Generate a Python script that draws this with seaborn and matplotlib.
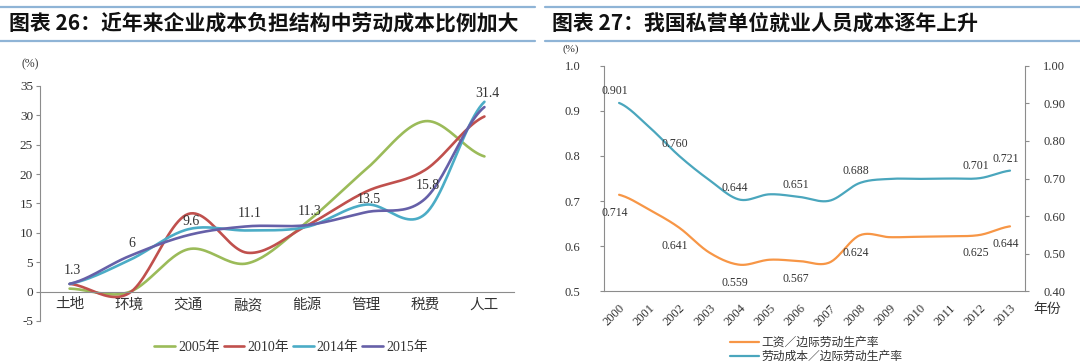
import matplotlib
matplotlib.use("Agg")
import matplotlib.pyplot as plt
from matplotlib.lines import Line2D
import numpy as np
import pandas as pd
import seaborn as sns

# left chart: share of cost items (%)
categories = ['土地', '环境', '交通', '融资', '能源', '管理', '税费', '人工']
share_2005 = [0.5, -0.1, 7.2, 4.8, 11.8, 20.8, 29.0, 23.0]
share_2010 = [1.3, -0.3, 13.2, 6.6, 11.2, 17.0, 20.7, 29.8]
share_2014 = [1.3, 5.3, 10.6, 10.4, 11.0, 14.8, 13.2, 32.3]
share_2015 = [1.3, 6.0, 9.6, 11.1, 11.3, 13.5, 15.8, 31.4]
series_names = ['2005年', '2010年', '2014年', '2015年']

# right chart: private sector ratios
years = ['2000', '2001', '2002', '2003', '2004', '2005', '2006',
         '2007', '2008', '2009', '2010', '2011', '2012', '2013']
wage_ratio = [0.714, 0.681, 0.641, 0.586, 0.559, 0.570, 0.567,
              0.564, 0.624, 0.620, 0.621, 0.622, 0.625, 0.644]
labor_ratio = [0.901, 0.837, 0.760, 0.696, 0.644, 0.658, 0.651,
               0.641, 0.688, 0.699, 0.699, 0.700, 0.701, 0.721]
labelled_years = [0, 2, 4, 6, 8, 12, 13]
wage_name = '工资／边际劳动生产率'
labor_name = '劳动成本／边际劳动生产率'

colors_left = ['#9bbb59', '#c0504d', '#4bacc6', '#6660a8']
c_wage = '#f79646'
c_labor = '#4aa6bd'
txt = '#333333'
spine_c = '#8c8c8c'


def smooth(vals, steps=24):
    # excel-style smoothed line, used only to draw the curve between points
    v = np.asarray(vals, float)
    p = np.r_[v[0], v, v[-1]]
    xs, ys = [], []
    t = np.linspace(0, 1, steps, endpoint=False)
    for i in range(len(v) - 1):
        p0, p1, p2, p3 = p[i:i + 4]
        m1 = (p2 - p0) / 2
        m2 = (p3 - p1) / 2
        h00 = 2 * t**3 - 3 * t**2 + 1
        h10 = t**3 - 2 * t**2 + t
        h01 = -2 * t**3 + 3 * t**2
        h11 = t**3 - t**2
        ys.append(h00 * p1 + h10 * m1 + h01 * p2 + h11 * m2)
        xs.append(i + t)
    xs.append([len(v) - 1])
    ys.append([v[-1]])
    return np.concatenate(xs), np.concatenate(ys)


sns.set_theme(style='white')
plt.rcParams['font.family'] = ['Liberation Serif', 'Noto Sans CJK SC']
plt.rcParams['axes.unicode_minus'] = False

fig = plt.figure(figsize=(10.8, 3.61), dpi=100)
ax1 = fig.add_axes([0.037, 0.111, 0.439, 0.651])
ax2 = fig.add_axes([0.5593, 0.193, 0.3898, 0.625])
ax3 = ax2.twinx()

# ---- left chart ----
frames = []
for name, vals in zip(series_names, [share_2005, share_2010, share_2014, share_2015]):
    sx, sy = smooth(vals)
    frames.append(pd.DataFrame({'x': sx, 'y': sy, 'series': name}))
df_left = pd.concat(frames)
sns.lineplot(data=df_left, x='x', y='y', hue='series', palette=colors_left,
             hue_order=series_names, sort=False, estimator=None, lw=1.9,
             legend=False, ax=ax1)

for i, v in enumerate(share_2015):
    ax1.annotate(f'{v:g}', (i, v), xytext=(2, 9.5), textcoords='offset points',
                 ha='center', va='center', fontsize=10, color=txt)

ax1.set_xlim(-0.5, 7.5)
ax1.set_ylim(-5, 35)
ax1.set_yticks(range(-5, 36, 5))
ax1.set_xticks(range(len(categories)))
ax1.set_xticklabels(categories)
ax1.set_xticks(np.arange(-0.5, 8, 1), minor=True)
ax1.spines['bottom'].set_position(('data', 0))
for s in ['top', 'right']:
    ax1.spines[s].set_visible(False)
for s in ['left', 'bottom']:
    ax1.spines[s].set_color(spine_c)
    ax1.spines[s].set_linewidth(0.8)
ax1.tick_params(axis='x', which='major', length=0, pad=5, labelsize=10.5, labelcolor=txt)
ax1.tick_params(axis='x', which='minor', length=5, direction='inout', color=spine_c, width=0.8)
ax1.tick_params(axis='y', length=3, direction='out', color=spine_c, width=0.8,
                left=True, pad=2, labelsize=9.5, labelcolor=txt)
ax1.set_xlabel('')
ax1.set_ylabel('')

handles = [Line2D([], [], color=c, lw=1.9) for c in colors_left]
fig.legend(handles, series_names, loc='center', bbox_to_anchor=(291 / 1080, 1 - 347 / 361),
           ncol=4, frameon=False, fontsize=10, handlelength=1.5, handletextpad=0.2,
           columnspacing=0.3, labelcolor=txt)

# ---- right chart ----
wx, wy = smooth(wage_ratio)
lx, ly = smooth(labor_ratio)
sns.lineplot(x=wx, y=wy, color=c_wage, lw=1.6, sort=False, estimator=None, ax=ax2)
sns.lineplot(x=lx, y=ly, color=c_labor, lw=1.6, sort=False, estimator=None, ax=ax3)

for i in labelled_years:
    ax2.annotate(f'{wage_ratio[i]:.3f}', (i, wage_ratio[i]), xytext=(-3, -13),
                 textcoords='offset points', ha='center', va='center', fontsize=8.5, color=txt)
    ax3.annotate(f'{labor_ratio[i]:.3f}', (i, labor_ratio[i]), xytext=(-3, 8.5),
                 textcoords='offset points', ha='center', va='center', fontsize=8.5, color=txt)

ax2.set_xlim(-0.5, 13.5)
ax2.set_ylim(0.5, 1.0)
ax3.set_ylim(0.4, 1.0)
ax2.set_yticks(np.arange(0.5, 1.01, 0.1))
ax2.set_yticklabels([f'{v:.1f}' for v in np.arange(0.5, 1.01, 0.1)])
ax3.set_yticks(np.arange(0.4, 1.01, 0.1))
ax3.set_yticklabels([f'{v:.2f}' for v in np.arange(0.4, 1.01, 0.1)])
ax2.set_xticks(range(len(years)))
ax2.set_xticklabels(years, rotation=45, ha='right', rotation_mode='anchor')
ax2.set_xticks(np.arange(-0.5, 14, 1), minor=True)
for s in ['top', 'right']:
    ax2.spines[s].set_visible(False)
for s in ['top', 'left', 'bottom']:
    ax3.spines[s].set_visible(False)
for s in ['left', 'bottom']:
    ax2.spines[s].set_color(spine_c)
    ax2.spines[s].set_linewidth(0.8)
ax3.spines['right'].set_color(spine_c)
ax3.spines['right'].set_linewidth(0.8)
ax2.tick_params(axis='x', which='major', length=0, pad=8, labelsize=9, labelcolor=txt)
ax2.tick_params(axis='x', which='minor', length=4, direction='inout', color=spine_c, width=0.8)
ax2.tick_params(axis='y', length=3, direction='out', color=spine_c, width=0.8,
                left=True, pad=14, labelsize=9, labelcolor=txt)
ax3.tick_params(axis='y', length=3, direction='out', color=spine_c, width=0.8,
                right=True, pad=10, labelsize=9, labelcolor=txt)
for a in (ax2, ax3):
    a.set_xlabel('')
    a.set_ylabel('')

fig.text(1033 / 1080, 1 - 309 / 361, '年份', fontsize=10, color=txt, va='center')
fig.legend([Line2D([], [], color=c_wage, lw=1.6), Line2D([], [], color=c_labor, lw=1.6)],
           [wage_name, labor_name], loc='upper left',
           bbox_to_anchor=(724 / 1080, 1 - 331 / 361), frameon=False, fontsize=8.5,
           handlelength=2.5, handletextpad=0.2, labelspacing=0.15, borderpad=0,
           labelcolor=txt)

# ---- titles, units and header rules ----
fig.text(30 / 1080, 1 - 64 / 361, '(%)', fontsize=8.5, color=txt, ha='center', va='center')
fig.text(571 / 1080, 1 - 49 / 361, '(%)', fontsize=8, color=txt, ha='center', va='center')
title_font = ['Noto Sans CJK SC']
fig.text(9 / 1080, 1 - 23 / 361, '图表 26：近年来企业成本负担结构中劳动成本比例加大',
         fontsize=15, fontweight='bold', family=title_font, color='#111111', va='center')
fig.text(552 / 1080, 1 - 23 / 361, '图表 27：我国私营单位就业人员成本逐年上升',
         fontsize=15, fontweight='bold', family=title_font, color='#111111', va='center')
rule_c = '#8fb4d6'
for y in (7, 41):
    yf = 1 - y / 361
    fig.add_artist(Line2D([0.0, 535 / 1080], [yf, yf], color=rule_c, lw=1.6))
    fig.add_artist(Line2D([545 / 1080, 1.0], [yf, yf], color=rule_c, lw=1.6))

fig.savefig('out.png', dpi=100)
